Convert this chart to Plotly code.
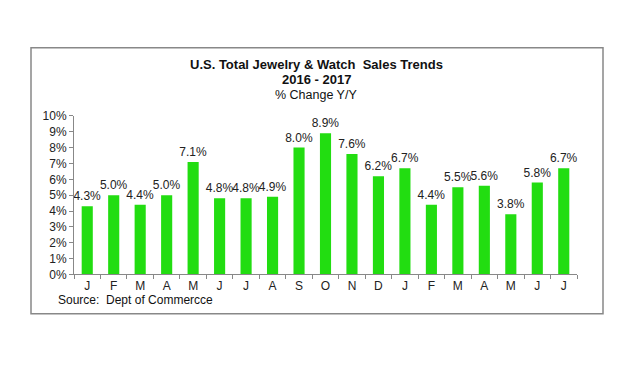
import plotly.graph_objects as go

months = ["J", "F", "M", "A", "M", "J", "J", "A", "S", "O", "N", "D",
          "J", "F", "M", "A", "M", "J", "J"]
values = [4.3, 5.0, 4.4, 5.0, 7.1, 4.8, 4.8, 4.9, 8.0, 8.9, 7.6, 6.2,
          6.7, 4.4, 5.5, 5.6, 3.8, 5.8, 6.7]
ytick_vals = list(range(0, 11))
ytick_text = [f"{v}%" for v in ytick_vals]

# page has an 8px default body margin; figure is shifted accordingly
OFF = 8
W, H = 643 - OFF, 367 - OFF
xpos = list(range(len(months)))

fig = go.Figure(go.Bar(
    x=xpos, y=values,
    marker=dict(color="#22DD11", line=dict(width=0)),
    text=[f"{v:.1f}%" for v in values],
    textposition="outside",
    constraintext="none",
    textfont=dict(family="Liberation Sans, Arial", size=12, color="#222"),
    cliponaxis=False,
    width=0.42,
))

def px(x):
    return (x - OFF) / W

def py(y):
    return 1 - (y - OFF) / H

def note(text, x, y, size, xanchor="center"):
    return dict(text=text, x=px(x), y=py(y), xref="paper", yref="paper",
                xanchor=xanchor, yanchor="middle", showarrow=False,
                font=dict(size=size, color="#111"))

fig.update_layout(
    width=W, height=H,
    margin=dict(l=0, r=0, t=0, b=0),
    paper_bgcolor="white", plot_bgcolor="white",
    showlegend=False,
    font=dict(family="Liberation Sans, Arial", size=12, color="#222"),
    xaxis=dict(
        domain=[px(74), px(577)],
        range=[-0.5, len(months) - 0.5],
        tickmode="array", tickvals=xpos, ticktext=months,
        ticks="", showgrid=False, zeroline=False,
        ticklabelstandoff=0,
        showline=True, linecolor="#888", linewidth=1,
        tickfont=dict(size=12, color="#222"),
        minor=dict(tickmode="array",
                   tickvals=[i - 0.5 for i in range(len(months) + 1)],
                   ticks="outside", ticklen=4, tickcolor="#888"),
    ),
    yaxis=dict(
        domain=[py(278), py(113)],
        range=[0, 10],
        tickmode="array", tickvals=ytick_vals, ticktext=ytick_text,
        ticks="outside", ticklen=4, tickcolor="#888",
        showgrid=False, zeroline=False,
        showline=True, linecolor="#888", linewidth=1,
        tickfont=dict(size=12, color="#222"),
    ),
    shapes=[dict(type="rect", xref="paper", yref="paper",
                 x0=px(31), x1=px(603), y0=py(319), y1=py(42),
                 line=dict(color="#888", width=1.5))],
    annotations=[
        note("<b>U.S. Total Jewelry &amp; Watch  Sales Trends</b>", 316, 60, 13),
        note("<b>2016 - 2017</b>", 316, 75, 13),
        note("% Change Y/Y", 316, 91.5, 12.5),
        note("Source:  Dept of Commercce", 56, 305, 12, xanchor="left"),
    ],
)

fig.write_html("out.html")
